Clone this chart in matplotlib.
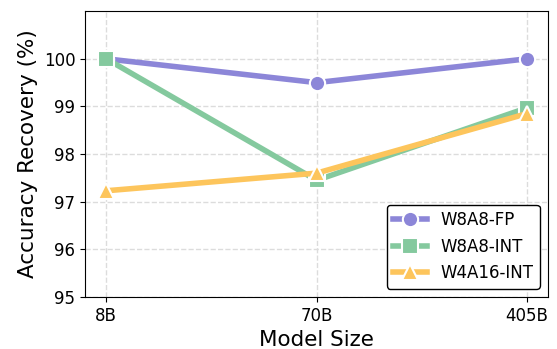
import numpy as np
import matplotlib
matplotlib.use("Agg")
import matplotlib.pyplot as plt

models = ["8B", "70B", "405B"]
w8a8_fp = [100.0, 99.5, 100.0]
w8a8_int = [100.0, 97.45, 98.97]
w4a16_int = [97.23, 97.6, 98.85]

fig = plt.figure(figsize=(5.57, 3.49), dpi=100)
ax = fig.add_subplot(111)
x = np.arange(len(models))
ax.plot(x, w8a8_fp, "-", color="#8c86d8", lw=4, marker="o", markersize=11,
        markeredgecolor="white", markeredgewidth=1.5, label="W8A8-FP")
ax.plot(x, w8a8_int, "-", color="#84c99e", lw=4, marker="s", markersize=11,
        markeredgecolor="white", markeredgewidth=1.5, label="W8A8-INT")
ax.plot(x, w4a16_int, "-", color="#fdc55c", lw=4, marker="^", markersize=11,
        markeredgecolor="white", markeredgewidth=1.5, label="W4A16-INT")

ax.set_xticks(x)
ax.set_xticklabels(models)
ax.set_ylim(95, 101)
ax.set_yticks([95, 96, 97, 98, 99, 100])
ax.tick_params(labelsize=12)
ax.grid(True, linestyle="--", color="#dcdcdc", lw=1)
ax.set_axisbelow(True)
ax.set_xlabel("Model Size", fontsize=15.5)
ax.set_ylabel("Accuracy Recovery (%)", fontsize=15.5)
leg = ax.legend(loc="lower right", fontsize=12, edgecolor="black", framealpha=1)
plt.subplots_adjust(left=0.153, right=0.984, top=0.968, bottom=0.149)
plt.savefig("out.png")
